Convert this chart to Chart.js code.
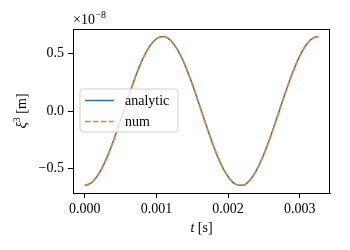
<!DOCTYPE html>
<html><head><meta charset="utf-8">
<script src="https://cdn.jsdelivr.net/npm/chart.js@4"></script>
<style>html,body{margin:0;padding:0;background:#fff}#wrap{width:350px;height:250px}</style>
</head><body><div id="wrap"><canvas id="c" width="350" height="250"></canvas></div>
<script>
// time in seconds
const tValues = [0,0.0001,0.0002,0.0003,0.0004,0.0005,0.0006,0.0007,0.0008,0.0009,0.0010,0.0011,0.0012,0.0013,0.0014,0.0015,0.0016,0.0017,0.0018,0.0019,0.0020,0.0021,0.0022,0.0023,0.0024,0.0025,0.0026,0.0027,0.0028,0.0029,0.0030,0.0031,0.0032,0.003258];
// displacement in units of 1e-8 m
const analyticValues = [-0.650,-0.623,-0.544,-0.420,-0.261,-0.080,0.108,0.286,0.441,0.559,0.630,0.649,0.614,0.528,0.398,0.235,0.052,-0.135,-0.311,-0.462,-0.573,-0.637,-0.648,-0.605,-0.511,-0.375,-0.208,-0.023,0.163,0.336,0.481,0.586,0.642,0.650];
const numValues = [-0.650,-0.623,-0.544,-0.420,-0.261,-0.080,0.108,0.286,0.441,0.559,0.630,0.649,0.614,0.528,0.398,0.235,0.052,-0.135,-0.311,-0.462,-0.573,-0.637,-0.648,-0.605,-0.511,-0.375,-0.208,-0.023,0.163,0.336,0.481,0.586,0.642,0.650];
const seriesNames = ['analytic','num'];
const xTicks = [0,0.001,0.002,0.003];
const xTickLabels = ['0.000','0.001','0.002','0.003'];
const yTicks = [-0.5,0,0.5];
const yTickLabels = ['\u22120.5','0.0','0.5'];
const yExponent = '\u22128';

const FONT = '"Liberation Serif", "Times New Roman", serif';
const pts = a => tValues.map((t,i)=>({x:t,y:a[i]}));

const decor = {
  id:'decor',
  afterDatasetsDraw(chart){
    const ctx = chart.ctx, a = chart.chartArea;
    ctx.save();
    // frame
    ctx.strokeStyle = '#000'; ctx.lineWidth = 1;
    ctx.strokeRect(Math.round(a.left)+0.5, Math.round(a.top)+0.5, Math.round(a.right-a.left)-1, Math.round(a.bottom-a.top));
    // legend
    const lx=80, ly=89, lw=98, lh=43, r=3;
    ctx.beginPath();
    ctx.moveTo(lx+r,ly); ctx.lineTo(lx+lw-r,ly); ctx.quadraticCurveTo(lx+lw,ly,lx+lw,ly+r);
    ctx.lineTo(lx+lw,ly+lh-r); ctx.quadraticCurveTo(lx+lw,ly+lh,lx+lw-r,ly+lh);
    ctx.lineTo(lx+r,ly+lh); ctx.quadraticCurveTo(lx,ly+lh,lx,ly+lh-r);
    ctx.lineTo(lx,ly+r); ctx.quadraticCurveTo(lx,ly,lx+r,ly); ctx.closePath();
    ctx.fillStyle='rgba(255,255,255,0.8)'; ctx.fill();
    ctx.strokeStyle='#d0d0d0'; ctx.lineWidth=1; ctx.stroke();
    const ds = chart.data.datasets;
    const rows=[100.5,121.5];
    ds.forEach((d,i)=>{
      ctx.beginPath(); ctx.strokeStyle=d.borderColor; ctx.lineWidth=1.5;
      ctx.setLineDash(d.borderDash||[]);
      ctx.moveTo(85,rows[i]); ctx.lineTo(114,rows[i]); ctx.stroke();
      ctx.setLineDash([]);
      ctx.fillStyle='#000'; ctx.font='14px '+FONT; ctx.textBaseline='alphabetic'; ctx.textAlign='left';
      ctx.fillText(d.label,125,rows[i]+4.5);
    });
    // x label
    ctx.font='italic 14px '+FONT;
    const w1=ctx.measureText('t').width;
    ctx.font='14px '+FONT;
    const w2=ctx.measureText(' [s]').width;
    const cx=(a.left+a.right)/2, x0=cx-(w1+w2)/2;
    ctx.font='italic 14px '+FONT; ctx.fillText('t',x0,232);
    ctx.font='14px '+FONT; ctx.fillText(' [s]',x0+w1,232);
    // y label
    ctx.save();
    ctx.translate(26,(a.top+a.bottom)/2); ctx.rotate(-Math.PI/2);
    ctx.font='italic 15px '+FONT; const g1=ctx.measureText('\u03be').width;
    ctx.font='10px '+FONT; const g2=ctx.measureText('3').width;
    ctx.font='14px '+FONT; const g3=ctx.measureText(' [m]').width;
    let sx=-(g1+g2+g3)/2;
    ctx.font='italic 15px '+FONT; ctx.fillText('\u03be',sx,0); sx+=g1;
    ctx.font='10px '+FONT; ctx.fillText('3',sx,-6); sx+=g2;
    ctx.font='14px '+FONT; ctx.fillText(' [m]',sx,0);
    ctx.restore();
    // offset text
    ctx.font='14px '+FONT;
    ctx.fillText('\u00d710',a.left,24);
    const ow=ctx.measureText('\u00d710').width;
    ctx.font='10px '+FONT;
    ctx.fillText(yExponent,a.left+ow+0.5,18);
    ctx.restore();
  }
};

new Chart(document.getElementById('c'),{
  type:'line',
  data:{datasets:[
    {label:seriesNames[0],data:pts(analyticValues),borderColor:'#1f77b4',borderWidth:1.5,pointRadius:0,cubicInterpolationMode:'monotone',fill:false,order:2},
    {label:seriesNames[1],data:pts(numValues),borderColor:'#ff7f0e',borderWidth:1.5,borderDash:[5.5,2.4],pointRadius:0,cubicInterpolationMode:'monotone',fill:false,order:1}
  ]},
  options:{
    responsive:false,animation:false,
    layout:{padding:{left:0,top:29,right:20,bottom:0}},
    plugins:{legend:{display:false},tooltip:{enabled:false}},
    scales:{
      x:{type:'linear',min:-0.000163,max:0.003421,
        afterBuildTicks:s=>{s.ticks=xTicks.map(v=>({value:v}));},
        afterFit:s=>{s.height=57;},
        grid:{drawOnChartArea:false,tickLength:5,tickColor:'#000',tickWidth:1},
        border:{display:true,color:'#000',width:1},
        ticks:{color:'#000',font:{family:FONT,size:14},padding:3,maxRotation:0,autoSkip:false,
          callback:(v)=>{const i=xTicks.indexOf(v);return i>=0?xTickLabels[i]:'';}}
      },
      y:{type:'linear',min:-0.715,max:0.715,
        afterBuildTicks:s=>{s.ticks=yTicks.map(v=>({value:v}));},
        afterFit:s=>{s.width=73;},
        grid:{drawOnChartArea:false,tickLength:5,tickColor:'#000',tickWidth:1},
        border:{display:true,color:'#000',width:1},
        ticks:{color:'#000',font:{family:FONT,size:14},padding:4,autoSkip:false,
          callback:(v)=>{const i=yTicks.indexOf(v);return i>=0?yTickLabels[i]:'';}}
      }
    }
  },
  plugins:[decor]
});
</script></body></html>
